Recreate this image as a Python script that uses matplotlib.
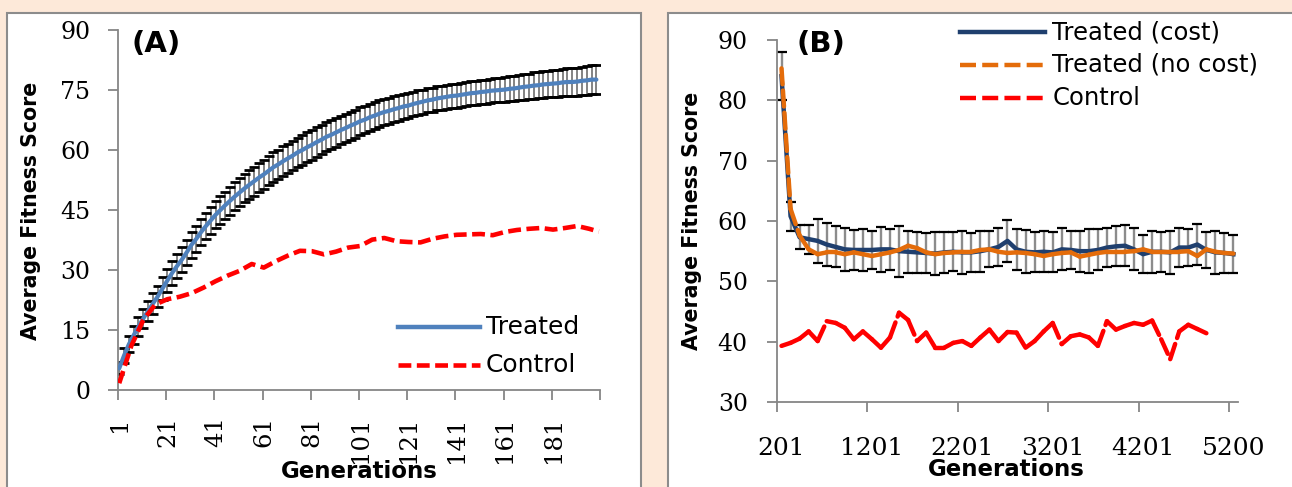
import numpy as np
import matplotlib
matplotlib.use("Agg")
import matplotlib.pyplot as plt
from matplotlib.patches import Rectangle

# ---- Panel A: generations 1-200 ----
gen_a_treated = list(range(1, 200, 2))
treated_a = [5.4, 8.6, 11.4, 13.7, 15.9, 17.9, 19.8, 21.6, 23.4, 25.4,
             27.4, 29.3, 31.0, 32.6, 34.4, 36.3, 37.8, 39.5, 41.0, 42.4,
             43.8, 45.0, 46.2, 47.3, 48.4, 49.4, 50.4, 51.3, 52.2, 53.1,
             53.9, 54.8, 55.7, 56.4, 57.2, 57.9, 58.6, 59.4, 60.0, 60.7,
             61.3, 62.0, 62.6, 63.3, 63.8, 64.4, 65.0, 65.5, 66.1, 66.6,
             67.2, 67.6, 68.2, 68.6, 69.1, 69.5, 69.8, 70.2, 70.5, 70.9,
             71.1, 71.5, 71.8, 72.1, 72.4, 72.6, 72.9, 73.1, 73.3, 73.5,
             73.6, 73.8, 74.0, 74.2, 74.3, 74.5, 74.6, 74.8, 74.9, 75.0,
             75.1, 75.3, 75.4, 75.6, 75.8, 75.9, 76.1, 76.2, 76.4, 76.5,
             76.6, 76.7, 76.9, 77.0, 77.0, 77.1, 77.3, 77.4, 77.6, 77.6]
treated_a_err = [1.5, 1.8, 2.0, 2.2, 2.3, 2.4, 2.5, 2.6, 2.7, 2.8,
                 2.9, 3.0, 3.0, 3.1, 3.1, 3.2, 3.2, 3.3, 3.3, 3.3,
                 3.4, 3.4, 3.4, 3.5, 3.5, 3.5, 3.5, 3.6, 3.6, 3.6,
                 3.6, 3.6, 3.7, 3.7, 3.7, 3.7, 3.7, 3.7, 3.7, 3.7,
                 3.7, 3.7, 3.7, 3.6, 3.6, 3.6, 3.6, 3.5, 3.5, 3.5,
                 3.5, 3.4, 3.4, 3.4, 3.3, 3.3, 3.3, 3.2, 3.2, 3.2,
                 3.1, 3.1, 3.1, 3.0, 3.0, 3.0, 3.0, 3.0, 3.0, 3.0,
                 3.0, 3.0, 3.0, 3.0, 3.0, 3.0, 3.0, 3.0, 3.0, 3.0,
                 3.1, 3.1, 3.1, 3.2, 3.2, 3.2, 3.3, 3.3, 3.3, 3.3,
                 3.4, 3.4, 3.4, 3.5, 3.5, 3.5, 3.5, 3.6, 3.6, 3.6]
gen_a_control = list(range(1, 200, 5)) + [200]
control_a = [1.7, 11.0, 17.5, 21.4, 22.7, 23.3, 24.2, 25.6, 27.2, 28.6,
             29.8, 31.5, 30.6, 32.2, 33.6, 34.8, 34.7, 33.9, 34.6, 35.6,
             36.0, 37.6, 38.0, 37.2, 37.0, 36.9, 37.8, 38.4, 38.8, 38.9,
             39.0, 38.7, 39.5, 40.0, 40.3, 40.5, 40.1, 40.5, 41.0, 40.3,
             39.6]
a_tick_labels = ["1", "21", "41", "61", "81", "101", "121", "141", "161", "181"]

# ---- Panel B: generations 201-5200, every 100 ----
gen_b = list(range(201, 5200, 100)) + [5200]
treated_cost = [84.0, 60.8, 57.3, 57.0, 56.7, 56.1, 55.7, 55.3, 55.2, 55.2,
                55.2, 55.3, 55.3, 55.0, 54.9, 54.8, 54.7, 54.6, 54.8, 54.9,
                54.8, 54.8, 55.0, 55.3, 55.7, 56.7, 55.3, 54.9, 54.8, 54.9,
                54.8, 55.3, 55.2, 55.0, 55.0, 55.2, 55.6, 55.8, 55.9, 55.3,
                54.5, 54.9, 54.9, 54.8, 55.6, 55.6, 56.1, 55.2, 54.8, 54.7,
                54.5]
cost_err = [4.0, 2.4, 2.0, 2.4, 3.6, 3.6, 3.4, 3.6, 3.3, 3.5,
            3.2, 3.7, 3.4, 4.2, 3.5, 3.4, 3.3, 3.6, 3.4, 3.2,
            3.6, 3.2, 3.4, 3.0, 3.2, 3.5, 3.4, 3.6, 3.3, 3.4,
            3.3, 3.5, 3.2, 3.4, 3.6, 3.4, 3.2, 3.3, 3.4, 3.5,
            3.1, 3.5, 3.3, 3.6, 3.2, 3.1, 3.4, 3.0, 3.6, 3.3,
            3.2]
treated_nocost = [85.3, 62.0, 57.6, 55.3, 54.5, 54.8, 54.8, 54.5, 54.8, 54.5,
                  54.2, 54.5, 54.8, 55.2, 55.9, 55.5, 54.8, 54.5, 54.7, 54.8,
                  54.9, 54.9, 55.2, 55.3, 54.9, 54.7, 54.8, 54.7, 54.5, 54.2,
                  54.5, 54.7, 54.8, 54.1, 54.4, 54.7, 54.9, 54.9, 54.9, 55.0,
                  55.3, 54.9, 54.9, 54.9, 54.9, 55.0, 54.2, 55.3, 54.9, 54.7,
                  54.6]
control_b = [39.3, 39.8, 40.5, 41.7, 40.1, 43.4, 43.1, 42.3, 40.4, 41.7,
             40.4, 39.0, 40.7, 44.8, 43.6, 40.1, 41.5, 39.0, 39.0, 39.8,
             40.1, 39.3, 40.7, 42.0, 40.1, 41.6, 41.5, 39.0, 40.1, 41.7,
             43.1, 39.6, 40.9, 41.2, 40.7, 39.3, 43.4, 42.0, 42.6, 43.1,
             42.8, 43.5, 40.4, 37.1, 41.7, 42.8, 42.1, 41.4]
b_tick_labels = ["201", "1201", "2201", "3201", "4201", "5200"]

plt.rcParams["font.family"] = "DejaVu Sans"
W, H = 1292, 487
BG = "#FDE9D9"
AXC = "#868686"
SERIF = "DejaVu Serif"

fig = plt.figure(figsize=(W / 100, H / 100), dpi=100, facecolor=BG)
# white panel boxes (behind the axes)
fig.patches.append(Rectangle((7 / W, -0.02), 634 / W, 1 - 13 / H + 0.02,
                             transform=fig.transFigure, facecolor="white",
                             edgecolor="#8C8C8C", lw=1.5, zorder=-5))
fig.patches.append(Rectangle((668 / W, -0.02), 0.6, 1 - 13 / H + 0.02,
                             transform=fig.transFigure, facecolor="white",
                             edgecolor="#8C8C8C", lw=1.5, zorder=-5))

axA = fig.add_axes([118 / W, 1 - 390 / H, 482 / W, 360 / H])
axB = fig.add_axes([777 / W, 1 - 402 / H, 461 / W, 362 / H])


def style_axes(ax):
    ax.set_facecolor("none")
    for s in ("top", "right"):
        ax.spines[s].set_visible(False)
    for s in ("left", "bottom"):
        ax.spines[s].set_color(AXC)
        ax.spines[s].set_linewidth(1.3)
    ax.tick_params(which="major", direction="out", length=7, width=1.3, color=AXC)
    ax.tick_params(which="minor", length=0)
    for lab in ax.get_yticklabels():
        lab.set_fontfamily(SERIF)
        lab.set_fontsize(17)


# ---------------- Panel A ----------------
xa_t = np.array(gen_a_treated) - 0.5
xa_c = np.array(gen_a_control) - 0.5
ya = np.array(treated_a)
ea = np.array(treated_a_err)
axA.vlines(xa_t, ya - ea, ya + ea, color="#6E6E6E", lw=1.2, zorder=2)
axA.plot(xa_t, ya + ea, "_", color="black", ms=6.5, mew=2.0, zorder=2)
axA.plot(xa_t, ya - ea, "_", color="black", ms=6.5, mew=2.0, zorder=2)
axA.plot(xa_t, ya, color="#4F81BD", lw=3.0, zorder=3, solid_capstyle="round")
axA.plot(xa_c, control_a, color="#FF0000", lw=3.3, dashes=(2.8, 1.2), zorder=4)

axA.set_xlim(0, 200)
axA.set_ylim(0, 90)
axA.set_yticks(np.arange(0, 91, 15))
axA.set_xticks(np.arange(0, 201, 20))
axA.set_xticklabels([])
axA.set_xticks(np.arange(0, 181, 20) + 0.5, minor=True)
axA.set_xticklabels(a_tick_labels, minor=True, rotation=90, fontfamily=SERIF,
                    fontsize=17.5, va="top", ha="center")
style_axes(axA)
axA.tick_params(axis="y", pad=13)
axA.tick_params(axis="x", which="minor", pad=19)

axA.text(156 / W, 1 - 44 / H, "(A)", transform=fig.transFigure, fontsize=21,
         fontweight="bold", ha="center", va="center")
fig.text(31 / W, 1 - 211 / H, "Average Fitness Score", rotation=90,
         fontsize=14.8, fontweight="bold", ha="center", va="center")
fig.text(359 / W, 1 - 472 / H, "Generations", fontsize=16.5,
         fontweight="bold", ha="center", va="center")

# legend A
axA.plot([0.581, 0.751], [0.175, 0.175], transform=axA.transAxes,
         color="#4F81BD", lw=3.2, clip_on=False)
axA.plot([0.581, 0.751], [0.069, 0.069], transform=axA.transAxes,
         color="#FF0000", lw=3.3, dashes=(2.8, 1.2), clip_on=False)
axA.text(0.763, 0.175, "Treated", transform=axA.transAxes, fontsize=18,
         va="center", ha="left")
axA.text(0.763, 0.069, "Control", transform=axA.transAxes, fontsize=18,
         va="center", ha="left")

# ---------------- Panel B ----------------
xb = np.arange(len(gen_b)) + 0.5
yc = np.array(treated_cost)
ec = np.array(cost_err)
axB.vlines(xb, yc - ec, yc + ec, color="#8C8C8C", lw=1.7, zorder=2)
axB.plot(xb, yc + ec, "_", color="black", ms=7, mew=1.6, zorder=2)
axB.plot(xb, yc - ec, "_", color="black", ms=7, mew=1.6, zorder=2)
axB.plot(xb, yc, color="#1F3F6E", lw=3.2, zorder=3)


def seg_dashed(ax, x, y, color, lw, dashes, z):
    # the dash pattern restarts at every data point
    for i in range(len(y) - 1):
        ax.plot(x[i:i + 2], y[i:i + 2], color=color, lw=lw, dashes=dashes,
                zorder=z, dash_capstyle="round")


seg_dashed(axB, xb, treated_nocost, "#E46C0A", 3.2, (3.6, 1.4), 4)
seg_dashed(axB, xb[:len(control_b)], control_b, "#FF0000", 3.2, (3.6, 1.4), 4)

axB.set_xlim(0, 51)
axB.set_ylim(30, 90)
axB.set_yticks(np.arange(30, 91, 10))
axB.set_xticks(np.arange(0, 51, 10))
axB.set_xticklabels([])
axB.set_xticks(np.arange(0, 51, 10) + 0.5, minor=True)
axB.set_xticklabels(b_tick_labels, minor=True, fontfamily=SERIF, fontsize=18)
style_axes(axB)
axB.tick_params(axis="y", pad=14)
axB.tick_params(axis="x", which="minor", pad=25)

axB.text(821 / W, 1 - 44 / H, "(B)", transform=fig.transFigure, fontsize=21,
         fontweight="bold", ha="center", va="center")
fig.text(692 / W, 1 - 221 / H, "Average Fitness Score", rotation=90,
         fontsize=14.8, fontweight="bold", ha="center", va="center")
fig.text(1006 / W, 1 - 470 / H, "Generations", fontsize=16.5,
         fontweight="bold", ha="center", va="center")

# legend B
leg_rows = [(1.022, "#1F3F6E", None, "Treated (cost)"),
            (0.931, "#E46C0A", (3.6, 1.4), "Treated (no cost)"),
            (0.840, "#FF0000", (3.6, 1.4), "Control")]
for yy, col, dsh, lab in leg_rows:
    kw = {"dashes": dsh} if dsh else {}
    axB.plot([0.397, 0.581], [yy, yy], transform=axB.transAxes, color=col,
             lw=3.2, clip_on=False, **kw)
    axB.text(0.597, yy, lab, transform=axB.transAxes, fontsize=17.5,
             va="center", ha="left")

fig.savefig("out.png", dpi=100, facecolor=BG)
